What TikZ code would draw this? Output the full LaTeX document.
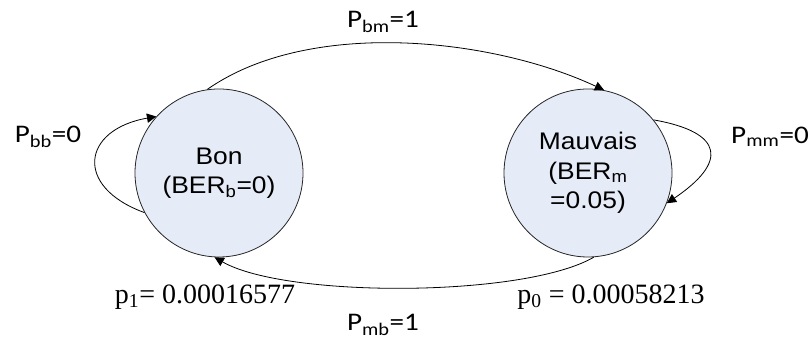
\documentclass[tikz,border=0pt]{standalone}
\usepackage{fontspec}
\setmainfont{Liberation Sans}[FakeStretch=1.1]
\newfontfamily\lblfont{Carlito}[FakeStretch=1.15]
\newfontfamily\numfont{Liberation Serif}
\usetikzlibrary{arrows.meta, positioning}
\usepackage{xcolor}
\definecolor{statefill}{RGB}{229,235,247}

\begin{document}
\begin{tikzpicture}[
    x=0.75pt, y=0.75pt,
    state/.style={draw=black!85, line width=0.6pt, circle, fill=statefill, minimum size=126pt, inner sep=0pt, align=center, font=\fontsize{18}{22}\selectfont},
    trans/.style={draw, line width=0.6pt, -{Triangle[length=7pt, width=7pt]}},
    prob/.style={font=\lblfont\fontsize{19}{22}\selectfont},
    value/.style={font=\numfont\fontsize{21}{24}\selectfont}
]
\useasboundingbox (0,0) rectangle (810,341);

% states
\node[state] (bon) at (219,168) {Bon\\(BER\textsubscript{b}=0)};
\node[state] (mauvais) at (588,168) {Mauvais\\(BER\textsubscript{m}\\=0.05)};

% transitions
\draw[trans] (bon.98) to[out=35, in=155, looseness=0.8] (mauvais.79);
\draw[trans] (mauvais.-86) to[out=210, in=330, looseness=0.55] (bon.-93);
\draw[trans] (bon.208) to[out=160, in=190, looseness=2] (bon.138);
\draw[trans] (mauvais.39) to[out=-10, in=34, looseness=2.2] (mauvais.-21);

% labels
\node[prob] (pbm) at (383,319) {P\textsubscript{bm}=1};
\node[prob] (pmb) at (383,16) {P\textsubscript{mb}=1};
\node[prob] (pbb) at (48,204) {P\textsubscript{bb}=0};
\node[prob] (pmm) at (770,204) {P\textsubscript{mm}=0};
\node[value] (pone) at (205,44) {p\textsubscript{1}= 0.00016577};
\node[value] (pzero) at (611,44) {p\textsubscript{0} = 0.00058213};

\end{tikzpicture}
\end{document}
